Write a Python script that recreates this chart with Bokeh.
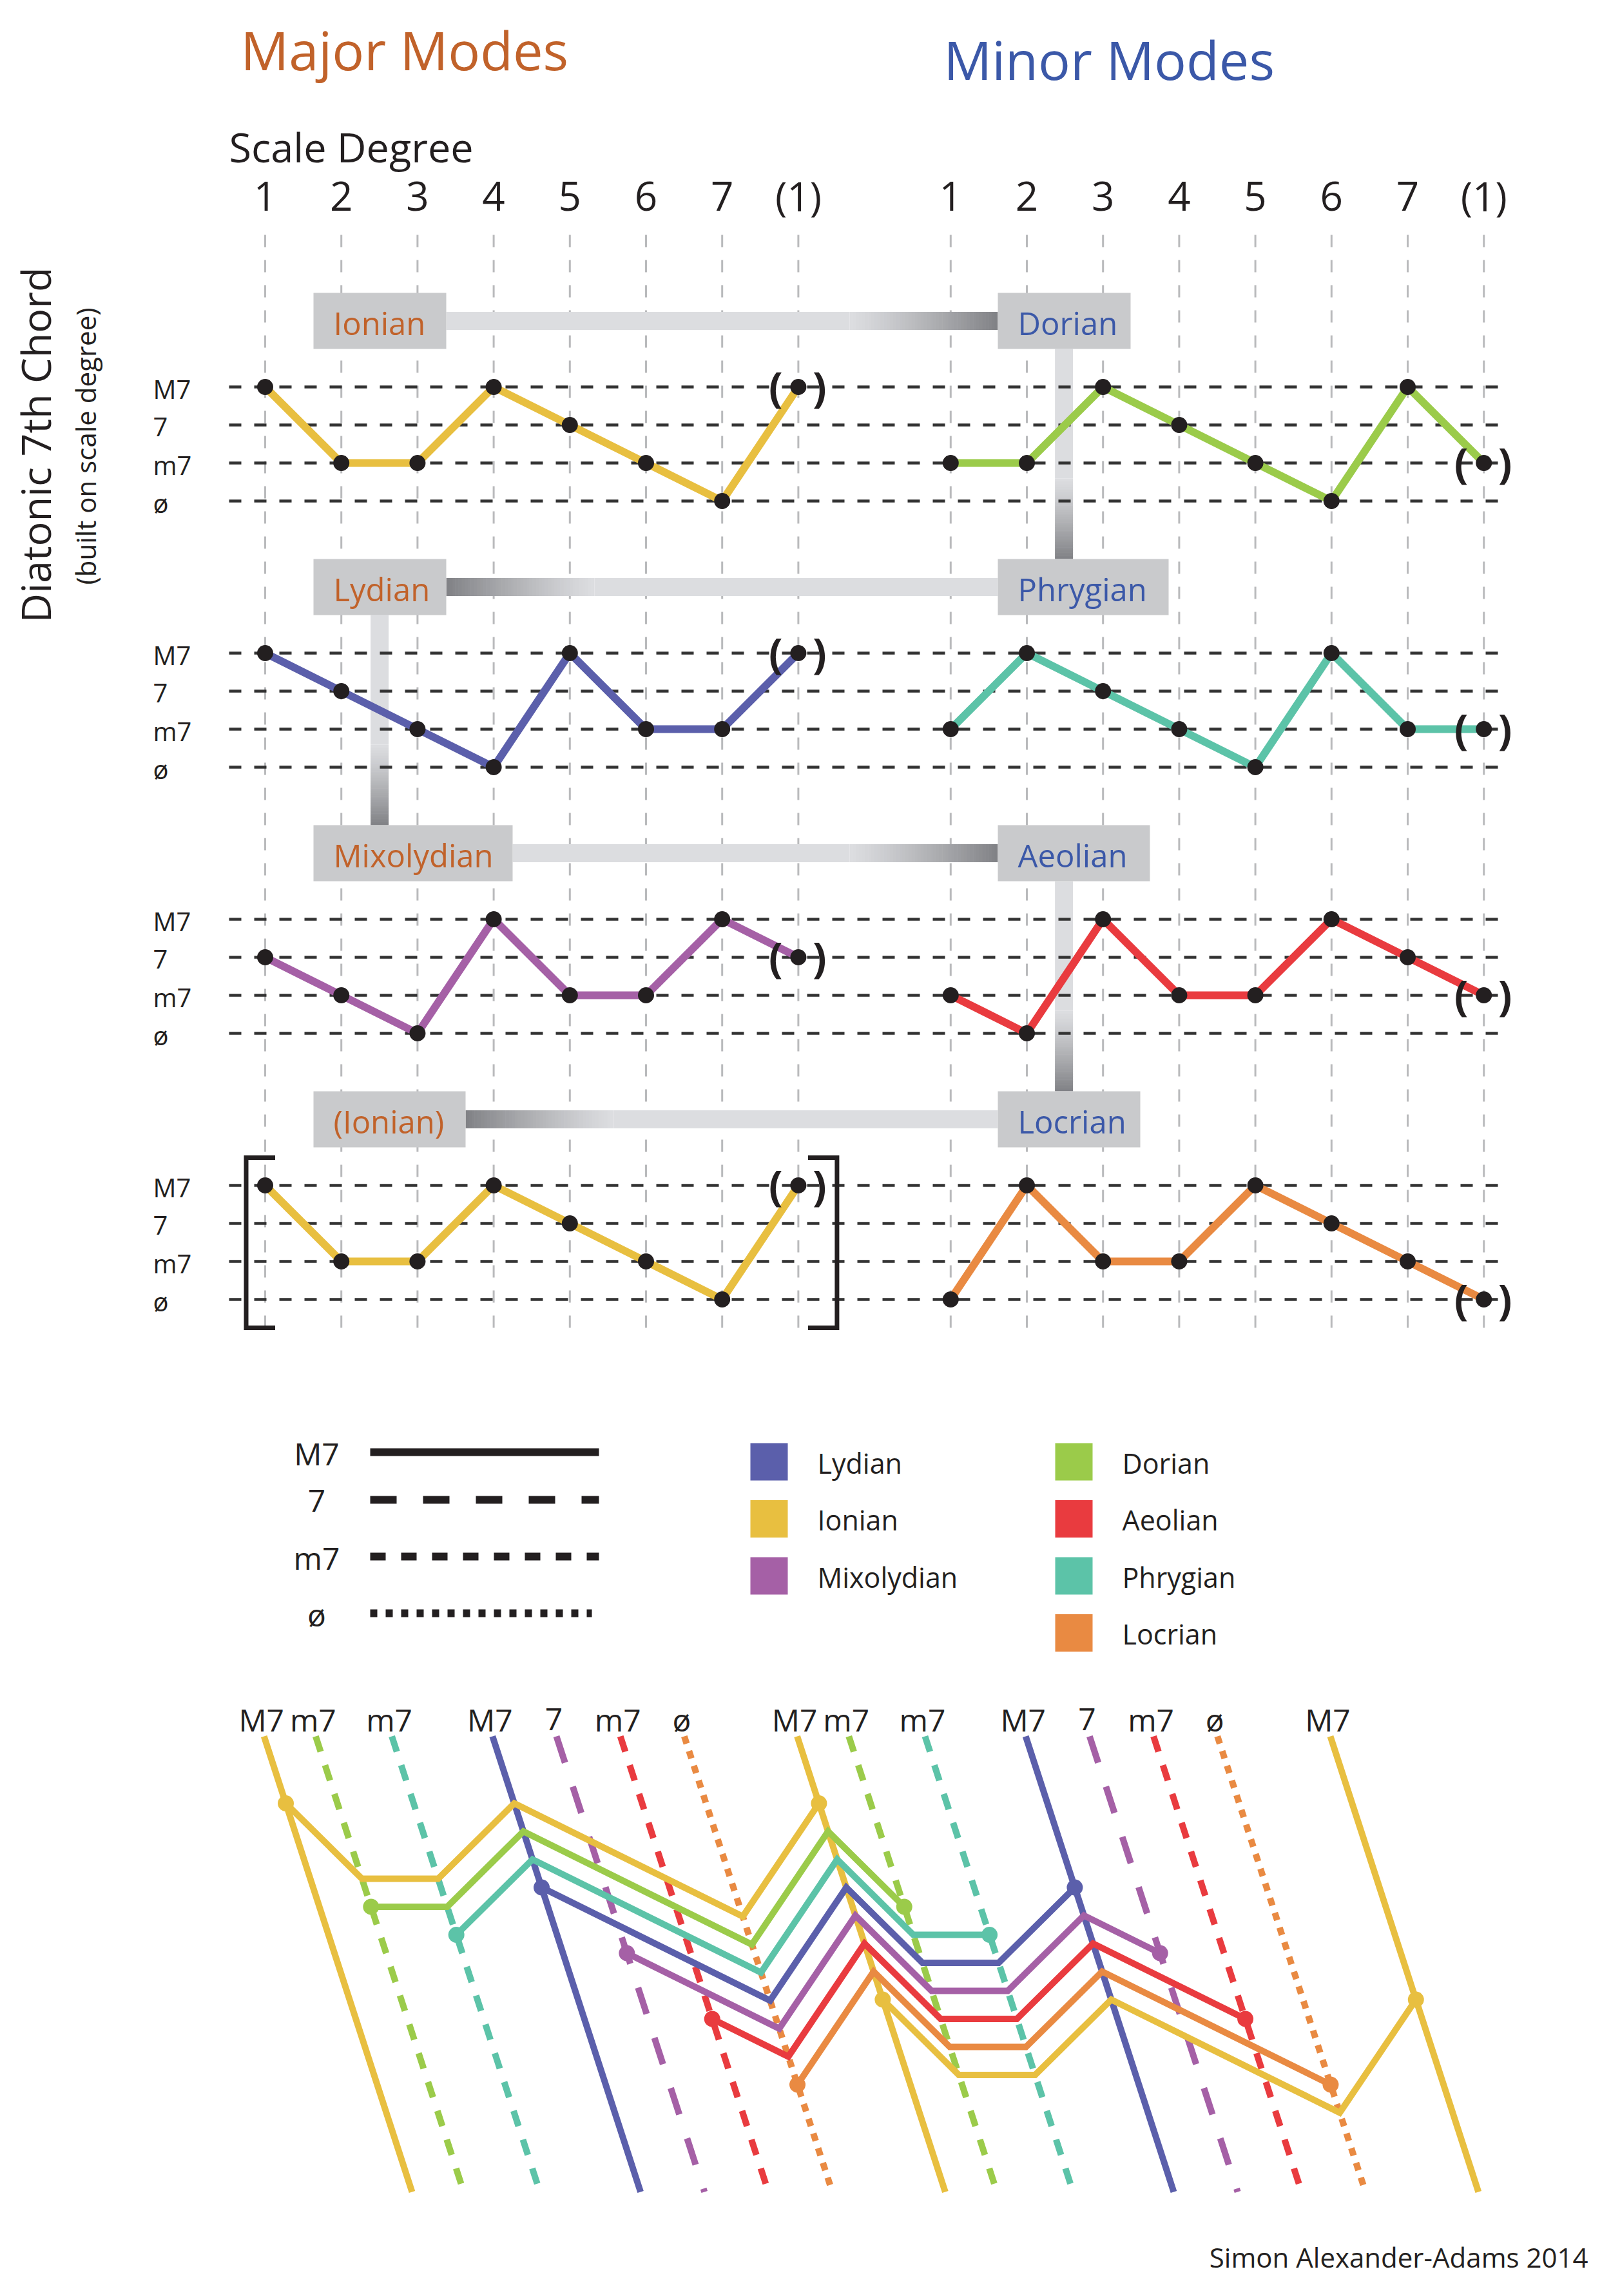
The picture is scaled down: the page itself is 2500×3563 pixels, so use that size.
import math
from bokeh.plotting import figure
from bokeh.models import Range1d
from bokeh.embed import file_html
from bokeh.resources import INLINE
from bokeh.core.properties import value

# ---------------- data ----------------
degree_labels = ["1", "2", "3", "4", "5", "6", "7", "(1)"]
qualities = ["ø", "m7", "7", "M7"]            # lowest -> highest row
mode_names = ["Ionian", "Dorian", "Phrygian", "Lydian", "Mixolydian", "Aeolian", "Locrian"]
mode_colors = ["#E8BF40", "#9BCB4A", "#5CC3A8", "#5B5FAB", "#A560A6", "#E93B3F", "#E98A42"]

ionian_chords = ["M7", "m7", "m7", "M7", "7", "m7", "ø", "M7"]
dorian_chords = ["m7", "m7", "M7", "7", "m7", "ø", "M7", "m7"]
phrygian_chords = ["m7", "M7", "7", "m7", "ø", "M7", "m7", "m7"]
lydian_chords = ["M7", "7", "m7", "ø", "M7", "m7", "m7", "M7"]
mixolydian_chords = ["7", "m7", "ø", "M7", "m7", "m7", "M7", "7"]
aeolian_chords = ["m7", "ø", "M7", "m7", "m7", "M7", "7", "m7"]
locrian_chords = ["ø", "M7", "m7", "m7", "M7", "7", "m7", "ø"]

major_panels = ["Ionian", "Lydian", "Mixolydian", "(Ionian)"]
major_panel_chords = [ionian_chords, lydian_chords, mixolydian_chords, ionian_chords]
major_panel_modes = ["Ionian", "Lydian", "Mixolydian", "Ionian"]
minor_panels = ["Dorian", "Phrygian", "Aeolian", "Locrian"]
minor_panel_chords = [dorian_chords, phrygian_chords, aeolian_chords, locrian_chords]

legend_styles = ["M7", "7", "m7", "ø"]
legend_left = ["Lydian", "Ionian", "Mixolydian"]
legend_right = ["Dorian", "Aeolian", "Phrygian", "Locrian"]

# bottom diagram: chord built on each degree across two octaves, and the mode starting there
ladder_chords = ["M7", "m7", "m7", "M7", "7", "m7", "ø", "M7", "m7", "m7", "M7", "7", "m7", "ø", "M7"]
ladder_modes = ["Ionian", "Dorian", "Phrygian", "Lydian", "Mixolydian", "Aeolian", "Locrian",
                "Ionian", "Dorian", "Phrygian", "Lydian", "Mixolydian", "Aeolian", "Locrian", "Ionian"]
ladder_lines = [0, 1, 2, 3, 4, 5, 6, 7]        # a mode line starts on each of these degrees

# ---------------- style ----------------
FONT = value("Open Sans")
INK = "#231F20"
MAJ_COL = "#C1622A"
MIN_COL = "#3B58A8"
BOX_COL = "#C9CACC"
color_of = dict(zip(mode_names, mode_colors))
dash_of = {"M7": "solid", "7": "43 39", "m7": "25 22", "ø": "12 12"}
legend_dash = {"M7": "solid", "7": "41 41", "m7": "24 24", "ø": "11 13"}
BASE_FIX = 0.28   # baseline correction (fraction of font size)


def lvl(q):
    return qualities.index(q)


p = figure(width=2484, height=3547, x_range=Range1d(8, 2492), y_range=Range1d(3555, 8),
           output_backend="svg", toolbar_location=None, min_border=0, title=None,
           x_axis_location=None, y_axis_location=None)
p.grid.visible = False
p.outline_line_color = None
p.background_fill_color = "white"
p.border_fill_color = "white"


def txt(xs, ys, texts, size, color=INK, align="left", rotated=False, bold=False):
    if rotated:
        xs = [x - BASE_FIX * size for x in xs]
    else:
        ys = [y - BASE_FIX * size for y in ys]
    p.text(x=xs, y=ys, text=texts, angle=(math.pi / 2 if rotated else 0), text_font=FONT,
           text_font_size="%dpx" % size, text_color=color, text_align=align,
           text_baseline="alphabetic", text_font_style=("bold" if bold else "normal"))


# ---------------- top section geometry ----------------
COLX_MAJ, COLX_MIN, COL_DX = 419.0, 1482.8, 118.2
ROW_Y0, LEVEL_DY, PANEL_DY = 608.0, 59.0, 413.0
maj_x = [COLX_MAJ + i * COL_DX for i in range(8)]
min_x = [COLX_MIN + i * COL_DX for i in range(8)]


def yq(panel, q):
    return ROW_Y0 + panel * PANEL_DY + (3 - lvl(q)) * LEVEL_DY


# vertical grid
gx = maj_x + min_x
p.segment(x0=gx, y0=[372] * len(gx), x1=gx, y1=[2083] * len(gx),
          line_color="#B9BABC", line_width=3, line_dash="19 20")

# connector bars with gradients
LIGHT = (220, 221, 224)
DARK = (128, 129, 133)


def mix(t):
    t = max(0.0, min(1.0, t)) ** 1.2
    c = [round(LIGHT[i] + (DARK[i] - LIGHT[i]) * t) for i in range(3)]
    return "#%02X%02X%02X" % tuple(c)


ql, qr, qt, qb, qc = [], [], [], [], []


def bar(orient, a0, a1, c, dark, glen, n=48, half=14):
    # orient 'h': a along x, c = y center ; 'v': a along y, c = x center
    segs = []
    if dark == "end":
        segs.append((a0, a1 - glen, mix(0)))
        for i in range(n):
            s0 = a1 - glen + glen * i / n
            s1 = a1 - glen + glen * (i + 1) / n + 0.6
            segs.append((s0, min(s1, a1), mix((i + 0.5) / n)))
    else:
        segs.append((a0 + glen, a1, mix(0)))
        for i in range(n):
            s1 = a0 + glen - glen * i / n
            s0 = a0 + glen - glen * (i + 1) / n - 0.6
            segs.append((max(s0, a0), s1, mix((i + 0.5) / n)))
    for s0, s1, col in segs:
        if orient == "h":
            ql.append(s0); qr.append(s1); qt.append(c - half); qb.append(c + half)
        else:
            ql.append(c - half); qr.append(c + half); qt.append(s0); qb.append(s1)
        qc.append(col)


BOX_TOP0, BOX_H = 462.0, 87.0
MAJ_BOX_L, MIN_BOX_L = 494.0, 1556.0
maj_box_w = [206, 206, 309, 236]
min_box_w = [206, 265, 236, 221]
box_cy = [BOX_TOP0 + BOX_H / 2 + k * PANEL_DY for k in range(4)]

for k in range(4):
    dark = "end" if k % 2 == 0 else "start"
    bar("h", MAJ_BOX_L + maj_box_w[k], MIN_BOX_L, box_cy[k], dark, 230)
# vertical links: Dorian->Phrygian, Lydian->Mixolydian, Aeolian->Locrian
vlinks = [(0, MIN_BOX_L + 102.6), (1, MAJ_BOX_L + 102.6), (2, MIN_BOX_L + 102.6)]
for k, xc in vlinks:
    bar("v", box_cy[k] + BOX_H / 2, box_cy[k + 1] - BOX_H / 2, xc, "end", 125)

p.quad(left=ql, right=qr, top=qt, bottom=qb, fill_color=qc, line_color=None)

# horizontal dashed chord lines
hy = [yq(k, q) for k in range(4) for q in qualities]
p.segment(x0=[363] * len(hy), y0=hy, x1=[2350] * len(hy), y1=hy,
          line_color="#333333", line_width=4.5, line_dash="19 20")

# mode boxes + names
for k in range(4):
    p.quad(left=[MAJ_BOX_L, MIN_BOX_L], right=[MAJ_BOX_L + maj_box_w[k], MIN_BOX_L + min_box_w[k]],
           top=[box_cy[k] - BOX_H / 2] * 2, bottom=[box_cy[k] + BOX_H / 2] * 2,
           fill_color=BOX_COL, line_color=None)
txt([MAJ_BOX_L + 31] * 4, [c + 17 for c in box_cy], major_panels, 49, MAJ_COL)
txt([MIN_BOX_L + 31] * 4, [c + 17 for c in box_cy], minor_panels, 49, MIN_COL)

# mode curves
for side_x, chords_list, names in ((maj_x, major_panel_chords, major_panel_modes),
                                   (min_x, minor_panel_chords, minor_panels)):
    for k in range(4):
        ys = [yq(k, q) for q in chords_list[k]]
        p.line(side_x, ys, line_color=color_of[names[k]], line_width=12, line_join="round")
        p.scatter(side_x, ys, size=25, fill_color=INK, line_color=None)
        txt([side_x[7] - 35, side_x[7] + 33], [ys[7] + 17] * 2, ["(", ")"], 64, INK,
            align="center", bold=True)

# bracket around the repeated Ionian
bt = yq(3, "M7") - 43
bb = yq(3, "ø") + 44
lx = maj_x[0] - 29.5
rx = maj_x[7] + 60
p.line([lx + 45, lx, lx, lx + 45], [bt, bt, bb, bb], line_color=INK, line_width=7, line_join="miter")
p.line([rx - 45, rx, rx, rx - 45], [bt, bt, bb, bb], line_color=INK, line_width=7, line_join="miter")

# row labels
for k in range(4):
    txt([245] * 4, [yq(k, q) + 14.5 for q in qualities], qualities, 40)

# headers
txt([381], [107], ["Major Modes"], 83, MAJ_COL)
txt([1472], [122], ["Minor Modes"], 83, MIN_COL)
txt([363], [253], ["Scale Degree"], 63)
txt(maj_x + min_x, [329] * 16, degree_labels + degree_labels, 62, align="center")
txt([80], [698], ["Diatonic 7th Chord"], 63, align="center", rotated=True)
txt([152], [700], ["(built on scale degree)"], 42, align="center", rotated=True)

# ---------------- legend ----------------
LEG_Y = {"M7": 2261, "7": 2335, "m7": 2423, "ø": 2511}
for q in legend_styles:
    x_end = 926 if q == "ø" else 937
    p.line([582, x_end], [LEG_Y[q]] * 2, line_color=INK, line_width=12, line_dash=legend_dash[q])
txt([499] * 4, [LEG_Y[q] + 15 for q in legend_styles], legend_styles, 48, align="center")

LEG_ROW0, LEG_DY, SQ = 2276.0, 88.5, 58.0
for col_x, txt_x, names in ((1172.0, 1276.0, legend_left), (1645.0, 1749.0, legend_right)):
    cy = [LEG_ROW0 + i * LEG_DY for i in range(len(names))]
    p.quad(left=[col_x] * len(names), right=[col_x + SQ] * len(names),
           top=[c - SQ / 2 for c in cy], bottom=[c + SQ / 2 for c in cy],
           fill_color=[color_of[n] for n in names], line_color=None)
    txt([txt_x] * len(names), [c + 14 for c in cy], names, 43)

# ---------------- bottom ladder ----------------
B_X0, B_DX, B_Y0, B_DL, B_DM, SLANT = 451.0, 118.2, 2806.0, 58.5, 43.5, 0.325
B_TOP, B_BOT = 2702.0, 3409.0
col_level = [lvl(q) for q in ladder_chords]


def bx(c, m):
    return B_X0 + c * B_DX + SLANT * m * B_DM


def by(c, m):
    return B_Y0 + m * B_DM + (3 - col_level[c]) * B_DL


tops = []
for c, q in enumerate(ladder_chords):
    x_ref, y_ref = bx(c, 0), by(c, 0)
    xt = x_ref + SLANT * (B_TOP - y_ref)
    xb = x_ref + SLANT * (B_BOT - y_ref)
    tops.append(xt)
    p.line([xt, xb], [B_TOP, B_BOT], line_color=color_of[ladder_modes[c]], line_width=10,
           line_dash=dash_of[q])

txt([t - 4 for t in tops], [2689] * len(tops), ladder_chords, 48, align="center")

for m in ladder_lines:
    cols = list(range(m, m + 8))
    xs = [bx(c, m) for c in cols]
    ys = [by(c, m) for c in cols]
    colr = color_of[ladder_modes[m]]
    p.line(xs, ys, line_color=colr, line_width=10, line_join="miter")
    p.scatter([xs[0], xs[-1]], [ys[0], ys[-1]], size=25, fill_color=colr, line_color=None)

txt([2472], [3522], ["Simon Alexander-Adams 2014"], 42, align="right")

open("out.html", "w").write(file_html(p, INLINE))
